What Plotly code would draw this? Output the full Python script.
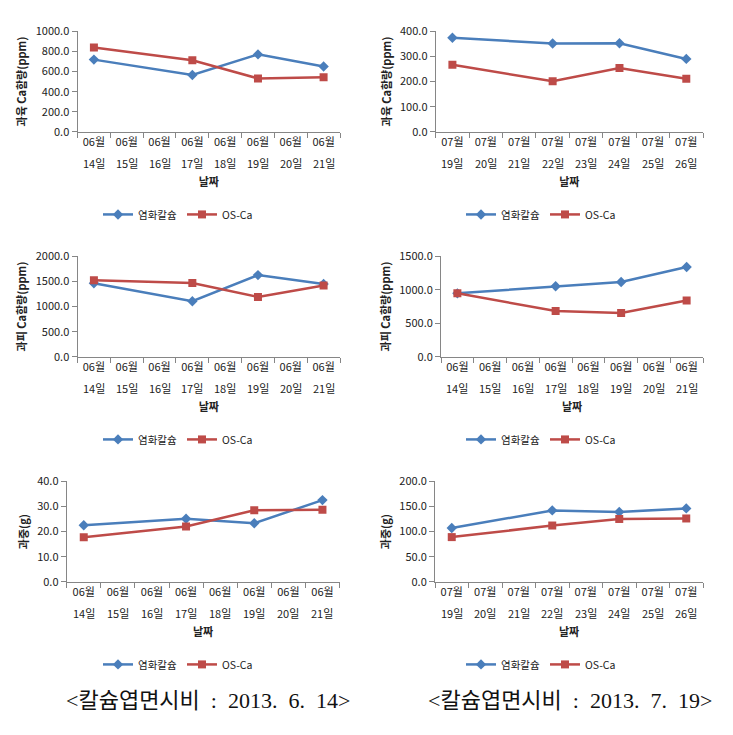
import plotly.graph_objects as go

W, H = 733, 735

# category axes (month / day lines of the tick labels)
months_jun = ["06월", "06월", "06월", "06월", "06월", "06월", "06월", "06월"]
days_jun = ["14일", "15일", "16일", "17일", "18일", "19일", "20일", "21일"]
months_jul = ["07월", "07월", "07월", "07월", "07월", "07월", "07월", "07월"]
days_jul = ["19일", "20일", "21일", "22일", "23일", "24일", "25일", "26일"]

# measured dates
meas_jun = ["06월 14일", "06월 17일", "06월 19일", "06월 21일"]
meas_jul = ["07월 19일", "07월 22일", "07월 24일", "07월 26일"]

# 과육 Ca함량 (6/14)
flesh_jun_cacl = [718, 566, 770, 650]
flesh_jun_osca = [838, 712, 531, 544]
# 과육 Ca함량 (7/19)
flesh_jul_cacl = [374, 351, 352, 290]
flesh_jul_osca = [267, 201, 254, 211]
# 과피 Ca함량 (6/14)
peel_jun_cacl = [1463, 1107, 1625, 1450]
peel_jun_osca = [1521, 1469, 1191, 1417]
# 과피 Ca함량 (7/19 panel, labelled 06월)
peel_jul_cacl = [947, 1053, 1117, 1340]
peel_jul_osca = [947, 684, 655, 840]
# 과중 (6/14)
wt_jun_cacl = [22.5, 25.1, 23.3, 32.5]
wt_jun_osca = [17.7, 22.0, 28.5, 28.7]
# 과중 (7/19)
wt_jul_cacl = [107, 142, 139, 146]
wt_jul_osca = [89, 112, 125, 126]

series_names = ["염화칼슘", "OS-Ca"]
y_titles = ["과육 Ca함량(ppm)", "과육 Ca함량(ppm)", "과피 Ca함량(ppm)",
            "과피 Ca함량(ppm)", "과중(g)", "과중(g)"]
x_title = "날짜"
NB = "\u00a0"
captions = [
    f"<칼슘엽면시비{NB}{NB}:{NB}{NB}2013.{NB}{NB}6.{NB}{NB}14>",
    f"<칼슘엽면시비{NB}{NB}:{NB}{NB}2013.{NB}{NB}7.{NB}{NB}19>",
]

BLUE = "#4a7ebb"
RED = "#be4b48"
AX = "#868686"
TXT = "#222222"
FONT = "Noto Sans CJK KR"

JUN = (months_jun, days_jun, meas_jun)
JUL = (months_jul, days_jul, meas_jul)

panels = [
    (JUN, flesh_jun_cacl, flesh_jun_osca, 1000, 200, (77.5, 340, 22.7, 125.7), (178, 210)),
    (JUL, flesh_jul_cacl, flesh_jul_osca, 400, 100, (435.7, 703, 22.7, 125.7), (541, 210)),
    (JUN, peel_jun_cacl, peel_jun_osca, 2000, 500, (77.5, 340, 252.7, 355.7), (178, 440)),
    (JUN, peel_jul_cacl, peel_jul_osca, 1500, 500, (441, 703, 252.7, 355.7), (541, 440)),
    (JUN, wt_jun_cacl, wt_jun_osca, 40, 10, (66.7, 339.5, 482.7, 585.7), (178, 670)),
    (JUL, wt_jul_cacl, wt_jul_osca, 200, 50, (435, 703, 482.7, 585.7), (541, 670)),
]

fig = go.Figure()
layout = {}
annotations = []
for i, ((months, days, meas), yb, yr, ymax, dt, (x0, x1, yt, ybt), (lx, ly)) in enumerate(panels):
    n = i + 1
    sx = "" if n == 1 else str(n)
    leg = "legend" if n == 1 else f"legend{n}"
    cats = [f"{m} {d}" for m, d in zip(months, days)]
    fig.add_trace(go.Scatter(
        x=meas, y=yb, name=series_names[0], mode="lines+markers",
        line=dict(color=BLUE, width=2.5),
        marker=dict(symbol="diamond", size=8, color=BLUE),
        xaxis="x" + sx, yaxis="y" + sx, legend=leg))
    fig.add_trace(go.Scatter(
        x=meas, y=yr, name=series_names[1], mode="lines+markers",
        line=dict(color=RED, width=2.5),
        marker=dict(symbol="square", size=8, color=RED),
        xaxis="x" + sx, yaxis="y" + sx, legend=leg))
    layout["xaxis" + sx] = dict(
        domain=[x0 / W, x1 / W], anchor="y" + sx,
        type="category", categoryorder="array", categoryarray=cats,
        tickmode="array", tickvals=cats, ticktext=months,
        range=[-0.5, len(cats) - 0.5],
        tickson="boundaries", ticks="outside", ticklen=5, tickcolor=AX,
        showline=True, linecolor=AX, linewidth=1, showgrid=False, zeroline=False,
        tickfont=dict(family=FONT, size=11, color=TXT),
        title=dict(text=f"<b>{x_title}</b>", font=dict(family=FONT, size=11, color=TXT), standoff=30),
        fixedrange=True)
    layout["yaxis" + sx] = dict(
        domain=[1 - ybt / H, 1 - yt / H], anchor="x" + sx,
        range=[0, ymax], dtick=dt, tick0=0, tickformat=".1f",
        ticks="outside", ticklen=5, tickcolor=AX,
        showline=True, linecolor=AX, linewidth=1, showgrid=False, zeroline=False,
        tickfont=dict(family=FONT, size=11, color=TXT),
        title=dict(text=f"<b>{y_titles[i]}</b>", font=dict(family=FONT, size=11, color=TXT), standoff=6),
        fixedrange=True)
    layout[leg] = dict(
        orientation="h", x=lx / W, y=1 - ly / H, xanchor="center", yanchor="middle",
        font=dict(family=FONT, size=10.5, color=TXT), bgcolor="rgba(0,0,0,0)",
        itemwidth=30, tracegroupgap=0)
    # second line of the date labels
    for c, d in zip(cats, days):
        annotations.append(dict(
            text=d, x=c, xref="x" + sx, y=1 - (ybt + 32) / H, yref="paper",
            showarrow=False, xanchor="center", yanchor="middle",
            font=dict(family=FONT, size=11, color=TXT)))

for cap, cx in zip(captions, [208, 570]):
    annotations.append(dict(
        text=cap, x=cx / W, y=1 - 707 / H, xref="paper", yref="paper",
        showarrow=False, xanchor="center", yanchor="middle",
        font=dict(family="Liberation Serif, " + FONT, size=22, color="#111")))

fig.update_layout(
    width=W, height=H, margin=dict(l=0, r=0, t=0, b=0),
    paper_bgcolor="white", plot_bgcolor="white",
    showlegend=True, annotations=annotations,
    font=dict(family=FONT),
    **layout)

fig.write_html("out.html")
